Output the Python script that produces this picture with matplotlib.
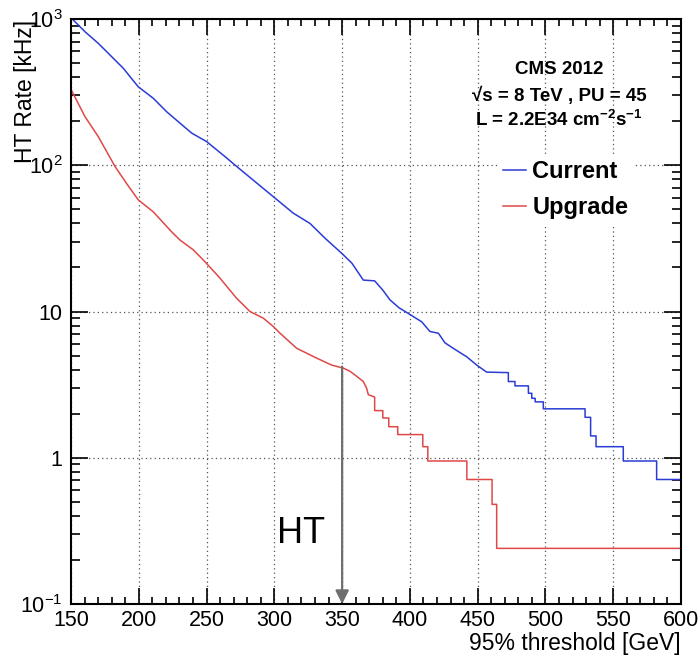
import matplotlib
matplotlib.use('Agg')
import matplotlib.pyplot as plt
from matplotlib.ticker import FixedLocator, FixedFormatter, MultipleLocator, LogLocator, NullFormatter
from matplotlib.lines import Line2D

plt.rcParams['font.family'] = ['Liberation Sans', 'DejaVu Sans']
plt.rcParams['mathtext.fontset'] = 'custom'
plt.rcParams['mathtext.rm'] = 'Liberation Sans'
plt.rcParams['mathtext.bf'] = 'Liberation Sans:bold'

# vertices (x in GeV, rate in kHz)
current_x = [150, 160.3, 170.1, 177.5, 188.6, 193.5, 199.6, 210.7, 220.6, 230.4, 239, 250.1,
             264.9, 270, 284.5, 299.2, 314, 326.3, 337.4, 349.7, 357.2, 365.6, 374, 380,
             385.3, 392, 398.8, 408.7, 414.8, 421, 425.9, 433.3, 441.9, 449.3, 456.6,
             472.6, 472.6, 477.5, 477.5, 487.4, 487.4, 489.9, 489.9, 492.4, 492.4, 498.4,
             498.4, 529.2, 529.2, 533.3, 533.3, 537.3, 537.3, 557.4, 557.4, 582, 582, 600]
current_y = [1020, 819, 682, 583, 460, 404, 344, 287, 232, 194, 166, 145,
             112, 102, 79, 61, 47, 40, 31.7, 25, 21.4, 16.4, 16.2, 14,
             12, 10.6, 9.7, 8.5, 7.3, 7.1, 6.1, 5.5, 4.9, 4.3, 3.85,
             3.82, 3.32, 3.32, 3.1, 3.1, 2.76, 2.76, 2.55, 2.55, 2.41, 2.41,
             2.16, 2.16, 1.89, 1.89, 1.41, 1.41, 1.19, 1.19, 0.95, 0.95, 0.71, 0.71]

upgrade_x = [150, 160.3, 170.1, 182.5, 191, 199.6, 210.7, 224.3, 230.4, 240.2, 248.8, 259.9,
             272.2, 282, 291.9, 299.2, 304.2, 316.5, 331.2, 342.3, 350.9, 355.8, 360.8,
             365.6, 368, 369.3, 374, 374, 380, 380, 384.4, 384.4, 391, 391, 409.5, 409.5,
             413.2, 413.2, 442, 442, 460.6, 460.6, 464, 464, 600]
upgrade_y = [330, 215, 157, 98, 75, 58, 48, 35, 30.8, 26.4, 21.9, 16.9,
             12.3, 10, 9.0, 7.9, 7.1, 5.6, 4.8, 4.3, 4.1, 3.9, 3.6,
             3.32, 3.0, 2.7, 2.6, 2.1, 2.1, 1.87, 1.87, 1.63, 1.63, 1.44, 1.44, 1.19,
             1.19, 0.95, 0.95, 0.71, 0.71, 0.48, 0.48, 0.24, 0.24]

x_ticks = [150, 200, 250, 300, 350, 400, 450, 500, 550, 600]
y_ticks = [0.1, 1, 10, 100, 1000]
y_tick_labels = [r'$\mathregular{10^{-1}}$', '1', '10', r'$\mathregular{10^{2}}$', r'$\mathregular{10^{3}}$']

fig = plt.figure(figsize=(6.99, 6.56), dpi=100)
ax = fig.add_axes([0.1016, 0.0793, 0.8727, 0.8917])

ax.plot(current_x, current_y, color='#2a3cd4', lw=1.1, label='Current')
ax.plot(upgrade_x, upgrade_y, color='#e04848', lw=1.1, label='Upgrade')

ax.set_yscale('log')
ax.set_xlim(150, 600)
ax.set_ylim(0.1, 1000)

ax.xaxis.set_major_locator(FixedLocator(x_ticks))
ax.xaxis.set_minor_locator(MultipleLocator(10))
ax.yaxis.set_major_locator(FixedLocator(y_ticks))
ax.yaxis.set_major_formatter(FixedFormatter(y_tick_labels))
ax.yaxis.set_minor_locator(LogLocator(base=10, subs=range(2, 10)))
ax.yaxis.set_minor_formatter(NullFormatter())

ax.tick_params(which='both', direction='in', top=True, right=True, width=1.2, labelsize=15.5)
ax.tick_params(axis='x', which='major', length=11.5, pad=4)
ax.tick_params(axis='x', which='minor', length=5)
ax.tick_params(axis='y', which='major', length=12, pad=6)
ax.tick_params(axis='y', which='minor', length=6.5)
for s in ax.spines.values():
    s.set_linewidth(1.5)

ax.grid(True, which='major', color='#555555', linestyle=(0, (1, 2.5)), linewidth=0.9)

ax.set_xlabel('95% threshold [GeV]', fontsize=16.5, loc='right')
ax.xaxis.set_label_coords(1.0, -0.048)
ax.set_ylabel('HT Rate [kHz]', fontsize=16.5, loc='top')
ax.yaxis.set_label_coords(-0.055, 0.998)

# arrow and annotation
ax.annotate('', xy=(350, 0.1), xytext=(350, 4.2),
            arrowprops=dict(arrowstyle='-|>', color='#6e6e6e', lw=1.6,
                            mutation_scale=20, shrinkA=0, shrinkB=0))
ax.text(319.5, 0.305, 'HT', fontsize=26, ha='center', va='center')

ax.text(0.80, 0.913, 'CMS 2012', transform=ax.transAxes, fontsize=13.5,
        fontweight='bold', ha='center', va='center')
ax.text(0.80, 0.868, '√s = 8 TeV , PU = 45', transform=ax.transAxes, fontsize=13.5,
        fontweight='bold', ha='center', va='center')
ax.text(0.80, 0.828, r'L = 2.2E34 cm$^{\mathbf{-2}}$s$^{\mathbf{-1}}$', transform=ax.transAxes,
        fontsize=13.5, fontweight='bold', ha='center', va='center')

handles = [Line2D([], [], color='#2a3cd4', lw=1.1), Line2D([], [], color='#e04848', lw=1.1)]
leg = ax.legend(handles, ['Current', 'Upgrade'], loc='upper left',
                bbox_to_anchor=(0.698, 0.769), prop={'size': 17, 'weight': 'bold'},
                handlelength=1.0, handletextpad=0.25, labelspacing=0.55,
                borderpad=0.25, borderaxespad=0, frameon=True, fancybox=False,
                framealpha=1, edgecolor='none', facecolor='white')

fig.savefig('out.png', dpi=100)
